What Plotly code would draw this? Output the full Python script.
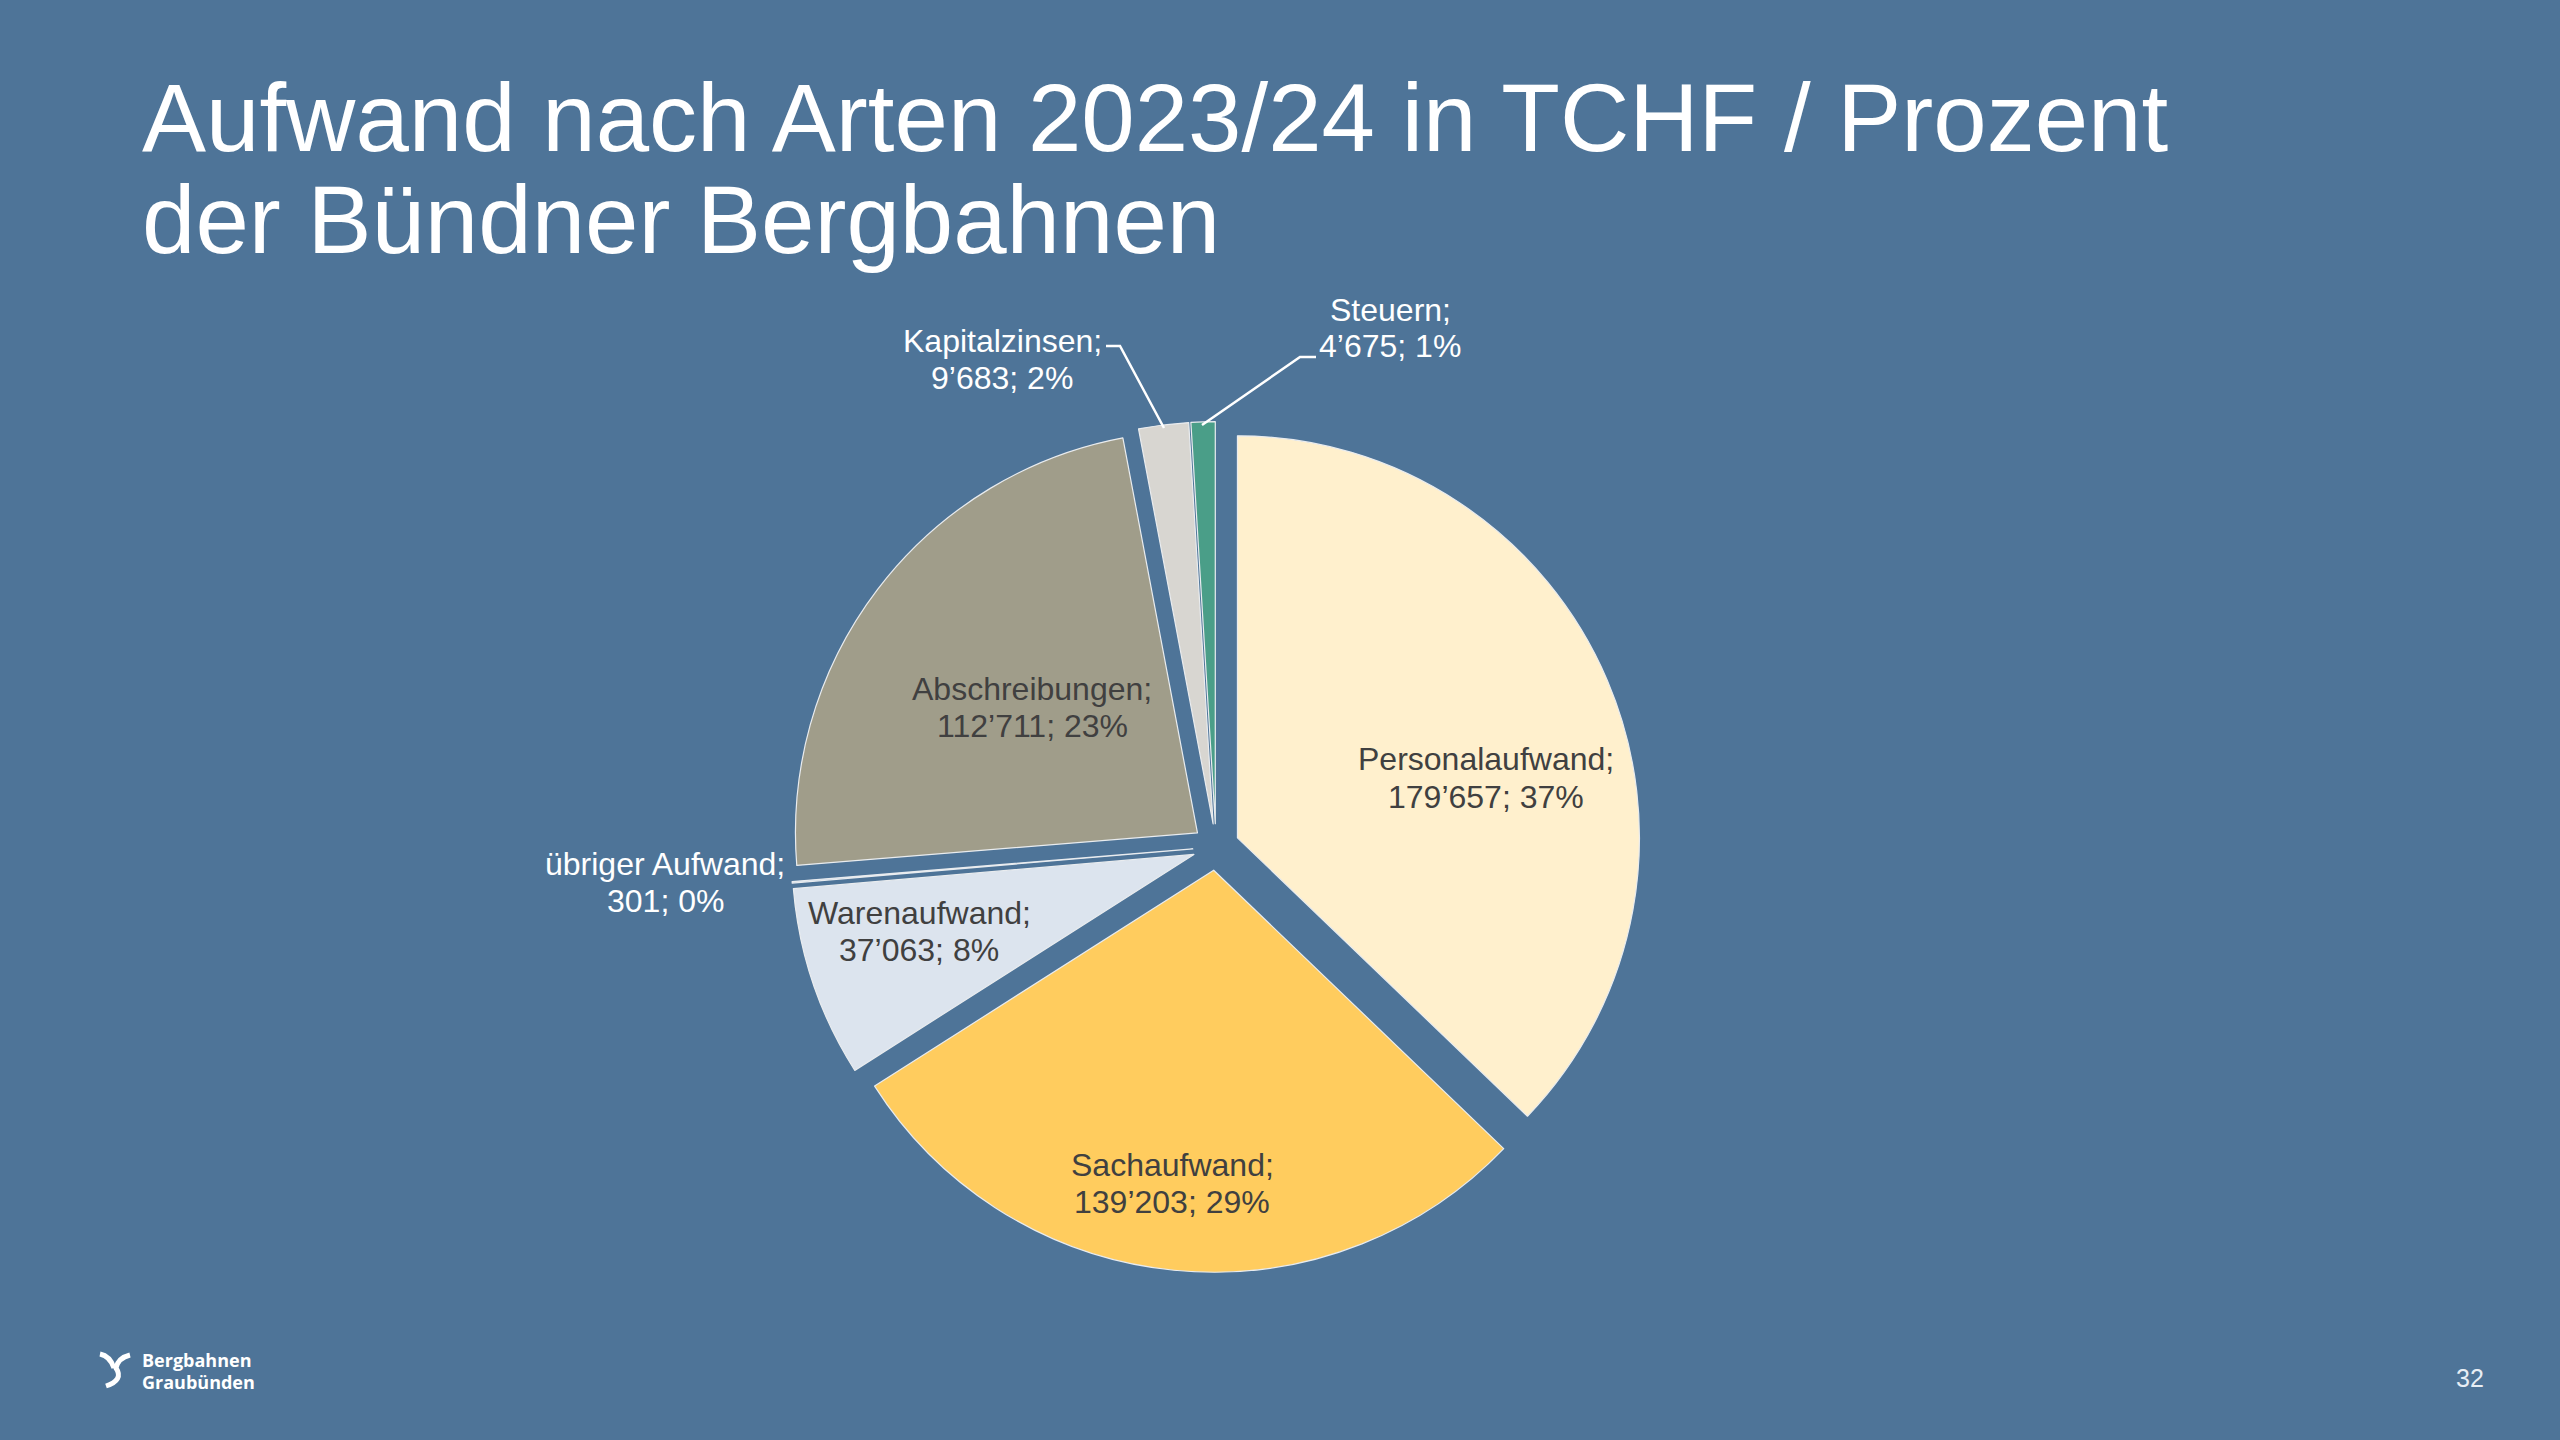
import plotly.graph_objects as go

# ---- data ----
categories = ["Personalaufwand", "Sachaufwand", "Warenaufwand", "übriger Aufwand",
              "Abschreibungen", "Kapitalzinsen", "Steuern"]
values_tchf = [179657, 139203, 37063, 301, 112711, 9683, 4675]
slice_colors = ["#FFF0CD", "#FFCC5E", "#DCE4EE", "#C8D7E8", "#A09D8A", "#D8D6D1", "#4A9E88"]

title_lines = ["Aufwand nach Arten 2023/24 in TCHF / Prozent", "der Bündner Bergbahnen"]
page_number = "32"
logo_lines = ["Bergbahnen", "Graubünden"]

W, H = 2560, 1440
BG = "#4E7498"
DARK = "#404040"


def px(x):
    return x / W


def py(y):
    return 1 - y / H


total = sum(values_tchf)


def fmt(v):
    return f"{v:,}".replace(",", "’")


label_lines = [(f"{c};", f"{fmt(v)}; {round(v / total * 100)}%") for c, v in zip(categories, values_tchf)]

# pie geometry (centre, radius in px)
CX, CY, R, PULL = 1216, 847, 402, 0.058
half = R * (1 + PULL)

fig = go.Figure()
fig.add_trace(go.Pie(
    labels=categories,
    values=values_tchf,
    sort=False,
    direction="clockwise",
    rotation=0,
    pull=[PULL] * len(values_tchf),
    marker=dict(colors=slice_colors, line=dict(color="#E9ECEF", width=1.2)),
    textinfo="none",
    hoverinfo="label+value+percent",
    showlegend=False,
    domain=dict(x=[px(CX - half), px(CX + half)], y=[py(CY + half), py(CY - half)]),
))

annotations = []
# title
for line, yc in zip(title_lines, [117, 219]):
    annotations.append(dict(text=line, x=px(140), y=py(yc), xref="paper", yref="paper",
                            xanchor="left", yanchor="middle", showarrow=False,
                            font=dict(family="Liberation Sans, Arial", size=96, color="white")))

# slice labels: (x centre, y centre, colour) per category, in px
label_pos = {
    "Personalaufwand": (1486, 778, DARK),
    "Sachaufwand": (1172, 1183, DARK),
    "Warenaufwand": (919, 931, DARK),
    "übriger Aufwand": (665, 882, "white"),
    "Abschreibungen": (1032, 707, DARK),
    "Kapitalzinsen": (1002, 359, "white"),
    "Steuern": (1390, 328, "white"),
}
LINE_GAP = 37
for cat, (l1, l2) in zip(categories, label_lines):
    x, y, col = label_pos[cat]
    for txt, yy in ((l1, y - LINE_GAP / 2), (l2, y + LINE_GAP / 2)):
        annotations.append(dict(text=txt, x=px(x), y=py(yy), xref="paper", yref="paper",
                                xanchor="center", yanchor="middle", showarrow=False,
                                font=dict(family="Liberation Sans, Arial", size=32, color=col)))

# page number
annotations.append(dict(text=page_number, x=px(2470), y=py(1378), xref="paper", yref="paper",
                        xanchor="center", yanchor="middle", showarrow=False,
                        font=dict(family="Liberation Sans, Arial", size=25, color="#E8EEF5")))
# logo text
for line, yc in zip(logo_lines, [1360, 1382]):
    annotations.append(dict(text=f"<b>{line}</b>", x=px(140), y=py(yc), xref="paper", yref="paper",
                            xanchor="left", yanchor="middle", showarrow=False,
                            font=dict(family="Open Sans", size=18, color="white")))


def path(points):
    return "M " + " L ".join(f"{px(x)},{py(y)}" for x, y in points)


def cpath(d):
    out = []
    for cmd, pts in d:
        out.append(cmd + " " + " ".join(f"{px(x)},{py(y)}" for x, y in pts))
    return " ".join(out)


shapes = [
    # leader lines
    dict(type="path", xref="paper", yref="paper",
         path=path([(1106, 346), (1120, 346), (1164, 428)]),
         line=dict(color="white", width=2.5)),
    dict(type="path", xref="paper", yref="paper",
         path=path([(1316, 357), (1300, 357), (1202, 425)]),
         line=dict(color="white", width=2.5)),
    # logo symbol
    dict(type="path", xref="paper", yref="paper",
         path=cpath([("M", [(100, 1354)]), ("Q", [(110, 1356), (114, 1368)])]),
         line=dict(color="white", width=5)),
    dict(type="path", xref="paper", yref="paper",
         path=cpath([("M", [(130, 1355)]), ("Q", [(118, 1358), (116, 1368)]),
                     ("Q", [(124, 1380), (106, 1386)])]),
         line=dict(color="white", width=5)),
]

fig.update_layout(
    width=W, height=H,
    margin=dict(l=0, r=0, t=0, b=0),
    paper_bgcolor=BG, plot_bgcolor=BG,
    annotations=annotations,
    shapes=shapes,
    showlegend=False,
)

fig.write_html("out.html", config={"displayModeBar": False},
               post_script="document.body.style.margin='0';document.body.style.overflow='hidden';")
